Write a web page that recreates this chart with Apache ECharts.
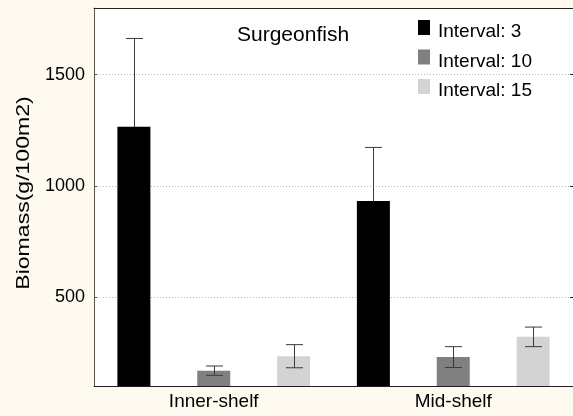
<!DOCTYPE html>
<html>
<head>
<meta charset="utf-8">
<script src="https://cdn.jsdelivr.net/npm/echarts@6/dist/echarts.min.js"></script>
<style>
  html, body { margin: 0; padding: 0; background: #fffaf0; }
  #chart { width: 573px; height: 416px; }
</style>
</head>
<body>
<div id="chart"></div>
<script>
// Surgeonfish biomass by shelf position and sampling interval
const categories = ['Inner-shelf', 'Mid-shelf'];
const seriesNames = ['Interval: 3', 'Interval: 10', 'Interval: 15'];
const meansInterval3 = [1266, 932];
const meansInterval10 = [169, 230];
const meansInterval15 = [234, 321];
const errInterval3 = [397, 241];
const errInterval10 = [21, 47];
const errInterval15 = [52, 44];
const yTicks = [500, 1000, 1500];
const yTitle = 'Biomass(g/100m2)';

const means = [meansInterval3, meansInterval10, meansInterval15];
const errs = [errInterval3, errInterval10, errInterval15];
const colors = ['#000000', '#808080', '#d3d3d3'];

const BAR_W = 33;
const BAR_GAP = 1.42;              // gap between bars as a fraction of bar width
const STEP = BAR_W * (1 + BAR_GAP); // centre-to-centre distance of bars in a group
const FONT = '"Liberation Sans", Arial, sans-serif';

const chart = echarts.init(document.getElementById('chart'), null, { renderer: 'canvas' });

const barSeries = seriesNames.map((name, i) => ({
  name,
  type: 'bar',
  data: means[i],
  barWidth: BAR_W,
  barGap: (BAR_GAP * 100) + '%',
  itemStyle: { color: colors[i] },
  z: 2
}));

// Whiskers: the black bars hide the lower half of their whisker, the grey ones show it
const errorSeries = seriesNames.map((name, i) => ({
  type: 'custom',
  name: name + ' err',
  data: means[i].map((m, k) => [k, m - errs[i][k], m + errs[i][k]]),
  z: i === 0 ? 1 : 3,
  silent: true,
  renderItem: function (params, api) {
    const k = api.value(0);
    const lo = api.coord([k, api.value(1)]);
    const hi = api.coord([k, api.value(2)]);
    const x = Math.round(lo[0] + (i - 1) * STEP) + 0.5;
    const half = 8.5;
    const style = { stroke: '#3a3a3a', lineWidth: 1, fill: null };
    return {
      type: 'group',
      children: [
        { type: 'line', shape: { x1: x, y1: lo[1], x2: x, y2: hi[1] }, style },
        { type: 'line', shape: { x1: x - half, y1: hi[1], x2: x + half, y2: hi[1] }, style },
        { type: 'line', shape: { x1: x - half, y1: lo[1], x2: x + half, y2: lo[1] }, style }
      ]
    };
  }
}));

chart.setOption({
  backgroundColor: '#fffaf0',
  animation: false,
  title: {
    text: 'Surgeonfish',
    left: 237,
    top: 25,
    padding: 0,
    textStyle: { fontFamily: FONT, fontSize: 21, fontWeight: 'normal', color: '#000' }
  },
  legend: {
    data: seriesNames,
    orient: 'vertical',
    left: 418,
    top: 20,
    padding: 0,
    itemWidth: 12,
    itemHeight: 15,
    itemGap: 8,
    icon: 'rect',
    selectedMode: false,
    formatter: '{t|{name}}',
    textStyle: {
      fontFamily: FONT, fontSize: 19, color: '#000',
      rich: { t: { fontFamily: FONT, fontSize: 19, color: '#000', padding: [9, 0, 0, 3] } }
    }
  },
  graphic: [{
    type: 'text',
    x: 24,
    y: 193,
    rotation: Math.PI / 2,
    scaleX: 1.28,
    style: {
      text: yTitle,
      fontFamily: FONT,
      fontSize: 18,
      fill: '#000',
      align: 'center',
      verticalAlign: 'middle'
    }
  }],
  grid: { left: 94, top: 8, right: -1, bottom: 30, show: true, backgroundColor: '#ffffff', borderWidth: 0 },
  xAxis: [{
    type: 'category',
    data: categories,
    axisLine: { lineStyle: { color: '#202020', width: 1 } },
    axisTick: { inside: true, alignWithLabel: true, length: 3, lineStyle: { color: '#202020' } },
    axisLabel: { fontFamily: FONT, fontSize: 19, color: '#000', margin: 6 }
  }, {
    type: 'category',
    position: 'top',
    data: categories,
    axisLine: { show: true, lineStyle: { color: '#202020', width: 1 } },
    axisTick: { inside: true, alignWithLabel: true, length: 3, lineStyle: { color: '#202020' } },
    axisLabel: { show: false }
  }],
  yAxis: [{
    type: 'value',
    min: 100,
    max: 1800,
    axisLine: { show: true, lineStyle: { color: '#5a544c', width: 1 } },
    axisTick: { show: true, inside: true, length: 3, customValues: yTicks, lineStyle: { color: '#5a544c' } },
    axisLabel: {
      fontFamily: FONT, fontSize: 18, color: '#000', margin: 9, customValues: yTicks,
      formatter: v => String(v)
    },
    splitLine: { show: true, lineStyle: { color: '#b8b8b8', type: [1, 2], width: 1 } }
  }, {
    type: 'value',
    position: 'right',
    min: 100,
    max: 1800,
    axisLine: { show: true, lineStyle: { color: '#202020' } },
    axisTick: { show: true, inside: true, length: 3, customValues: yTicks, lineStyle: { color: '#202020' } },
    axisLabel: { show: false },
    splitLine: { show: false }
  }],
  series: barSeries.concat(errorSeries)
});
</script>
</body>
</html>
